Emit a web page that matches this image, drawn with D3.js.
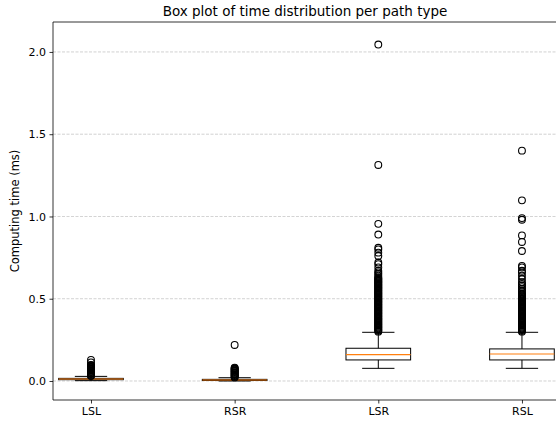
<!DOCTYPE html>
<meta charset="utf-8">
<style>
    body{ margin:0; background:#fff; }
    svg{ font-family:"DejaVu Sans", sans-serif; }
    .grid line{ stroke:#b0b0b0; stroke-dasharray:3,1.5; stroke-width:0.8; opacity:0.7; }
    .box{ fill:none; stroke:#000; stroke-width:1; }
    .median{ stroke:#ff7f0e; stroke-width:1.2; }
    .flier{ fill:none; stroke:#000; stroke-width:1.1; }
</style>
<body>
<svg id="chart" width="556" height="424"></svg>
</body>
<script src="https://d3js.org/d3.v7.min.js"></script>
<script>
// box statistics per path type (ms)
var categories = ["LSL", "RSR", "LSR", "RSL"];
var whiskerLow = [0.002, 0.0, 0.077, 0.077];
var q1 = [0.008, 0.003, 0.128, 0.128];
var medians = [0.012, 0.006, 0.160, 0.164];
var q3 = [0.016, 0.010, 0.199, 0.195];
var whiskerHigh = [0.028, 0.020, 0.296, 0.296];

// outliers
var fliersLSL = [0.030, 0.034, 0.038, 0.042, 0.046, 0.050, 0.054, 0.058, 0.062, 0.066, 0.070, 0.074, 0.078, 0.082,
                 0.086, 0.090, 0.094, 0.098, 0.113, 0.128];
var fliersRSR = [0.022, 0.026, 0.030, 0.034, 0.038, 0.042, 0.046, 0.050, 0.054, 0.058, 0.062, 0.066, 0.070, 0.074,
                 0.078, 0.081, 0.219];
var fliersLSR = [0.300, 0.305, 0.310, 0.315, 0.320, 0.325, 0.330, 0.335, 0.340, 0.345, 0.350, 0.355, 0.360, 0.365,
                 0.370, 0.375, 0.380, 0.385, 0.390, 0.395, 0.400, 0.405, 0.410, 0.415, 0.420, 0.425, 0.430, 0.435,
                 0.440, 0.445, 0.450, 0.455, 0.460, 0.465, 0.470, 0.475, 0.480, 0.485, 0.490, 0.495, 0.500, 0.505,
                 0.510, 0.515, 0.520, 0.525, 0.530, 0.535, 0.540, 0.545, 0.550, 0.555, 0.560, 0.565, 0.570, 0.575,
                 0.580, 0.585, 0.590, 0.595, 0.600, 0.605, 0.610, 0.615, 0.620, 0.625, 0.630, 0.640, 0.650, 0.660,
                 0.670, 0.690, 0.710, 0.720, 0.760, 0.780, 0.800, 0.810, 0.890, 0.955, 1.313, 2.045];
var fliersRSL = [0.300, 0.305, 0.310, 0.315, 0.320, 0.325, 0.330, 0.335, 0.340, 0.345, 0.350, 0.355, 0.360, 0.365,
                 0.370, 0.375, 0.380, 0.385, 0.390, 0.395, 0.400, 0.405, 0.410, 0.415, 0.420, 0.425, 0.430, 0.435,
                 0.440, 0.445, 0.450, 0.455, 0.460, 0.465, 0.470, 0.475, 0.480, 0.485, 0.490, 0.495, 0.500, 0.505,
                 0.510, 0.515, 0.520, 0.525, 0.530, 0.540, 0.550, 0.560, 0.570, 0.580, 0.590, 0.600, 0.620, 0.640,
                 0.660, 0.670, 0.690, 0.700, 0.790, 0.845, 0.885, 0.980, 0.990, 1.098, 1.400];
var yTicks = [0.0, 0.5, 1.0, 1.5, 2.0];

var fliers = [fliersLSL, fliersRSR, fliersLSR, fliersRSL];
var data = categories.map(function(c, i) {
    return {name: c, pos: i + 1, lo: whiskerLow[i], q1: q1[i], med: medians[i],
            q3: q3[i], hi: whiskerHigh[i], fliers: fliers[i]};
});

var mLeft = 53, mRight = 556, mTop = 22, mBottom = 400;
var boxWidth = 0.45;

var svg = d3.select("#chart");
var x = d3.scaleLinear().domain([0.7355, 4.237]).range([mLeft, mRight]);
var y = d3.scaleLinear().domain([-0.1155, 2.182]).range([mBottom, mTop]);

// grid
svg.append("g").attr("class", "grid")
    .selectAll("line").data(yTicks).enter().append("line")
    .attr("x1", mLeft).attr("x2", mRight)
    .attr("y1", function(d) { return y(d); })
    .attr("y2", function(d) { return y(d); });

var g = svg.selectAll(".bp").data(data).enter().append("g").attr("class", "bp");

// whiskers
g.append("line").attr("class", "box")
    .attr("x1", function(d) { return x(d.pos); }).attr("x2", function(d) { return x(d.pos); })
    .attr("y1", function(d) { return y(d.q3); }).attr("y2", function(d) { return y(d.hi); });
g.append("line").attr("class", "box")
    .attr("x1", function(d) { return x(d.pos); }).attr("x2", function(d) { return x(d.pos); })
    .attr("y1", function(d) { return y(d.q1); }).attr("y2", function(d) { return y(d.lo); });
// caps
["hi", "lo"].forEach(function(k) {
    g.append("line").attr("class", "box")
        .attr("x1", function(d) { return x(d.pos - boxWidth / 4); })
        .attr("x2", function(d) { return x(d.pos + boxWidth / 4); })
        .attr("y1", function(d) { return y(d[k]); })
        .attr("y2", function(d) { return y(d[k]); });
});
// box
g.append("rect").attr("class", "box")
    .attr("x", function(d) { return x(d.pos - boxWidth / 2); })
    .attr("width", function(d) { return x(d.pos + boxWidth / 2) - x(d.pos - boxWidth / 2); })
    .attr("y", function(d) { return y(d.q3); })
    .attr("height", function(d) { return y(d.q1) - y(d.q3); });
// median
g.append("line").attr("class", "median")
    .attr("x1", function(d) { return x(d.pos - boxWidth / 2); })
    .attr("x2", function(d) { return x(d.pos + boxWidth / 2); })
    .attr("y1", function(d) { return y(d.med); })
    .attr("y2", function(d) { return y(d.med); });
// outliers
g.each(function(d) {
    d3.select(this).selectAll("circle").data(d.fliers).enter().append("circle")
        .attr("class", "flier")
        .attr("cx", x(d.pos))
        .attr("cy", function(v) { return y(v); })
        .attr("r", 3.4);
});

// axes
var yAxis = svg.append("g").attr("transform", "translate(" + mLeft + ",0)")
    .call(d3.axisLeft(y).tickValues(yTicks).tickFormat(d3.format(".1f")).tickSizeOuter(0).tickSize(3.5).tickPadding(3.5));
var xAxis = svg.append("g").attr("transform", "translate(0," + mBottom + ")")
    .call(d3.axisBottom(x).tickValues(data.map(function(d) { return d.pos; }))
        .tickFormat(function(p) { return categories[p - 1]; }).tickSizeOuter(0).tickSize(3.5).tickPadding(3.5));
[yAxis, xAxis].forEach(function(a) {
    a.selectAll("text").attr("font-size", 11).attr("font-family", "DejaVu Sans").attr("fill", "#000");
    a.selectAll("line").attr("stroke", "#000").attr("stroke-width", 0.8);
    a.select(".domain").remove();
});
// spines
svg.append("line").attr("x1", mLeft).attr("x2", mLeft).attr("y1", mTop).attr("y2", mBottom)
    .attr("stroke", "#000").attr("stroke-width", 0.8);
svg.append("line").attr("x1", mLeft).attr("x2", mRight).attr("y1", mBottom).attr("y2", mBottom)
    .attr("stroke", "#000").attr("stroke-width", 0.8);
svg.append("line").attr("x1", mLeft).attr("x2", mRight).attr("y1", mTop).attr("y2", mTop)
    .attr("stroke", "#000").attr("stroke-width", 0.8);

svg.append("text").attr("x", 305).attr("y", 16).attr("text-anchor", "middle")
    .attr("font-size", 13.5).text("Box plot of time distribution per path type");
svg.append("text").attr("transform", "translate(19," + ((mTop + mBottom) / 2) + ") rotate(-90)")
    .attr("text-anchor", "middle").attr("font-size", 11.5).text("Computing time (ms)");
</script>
